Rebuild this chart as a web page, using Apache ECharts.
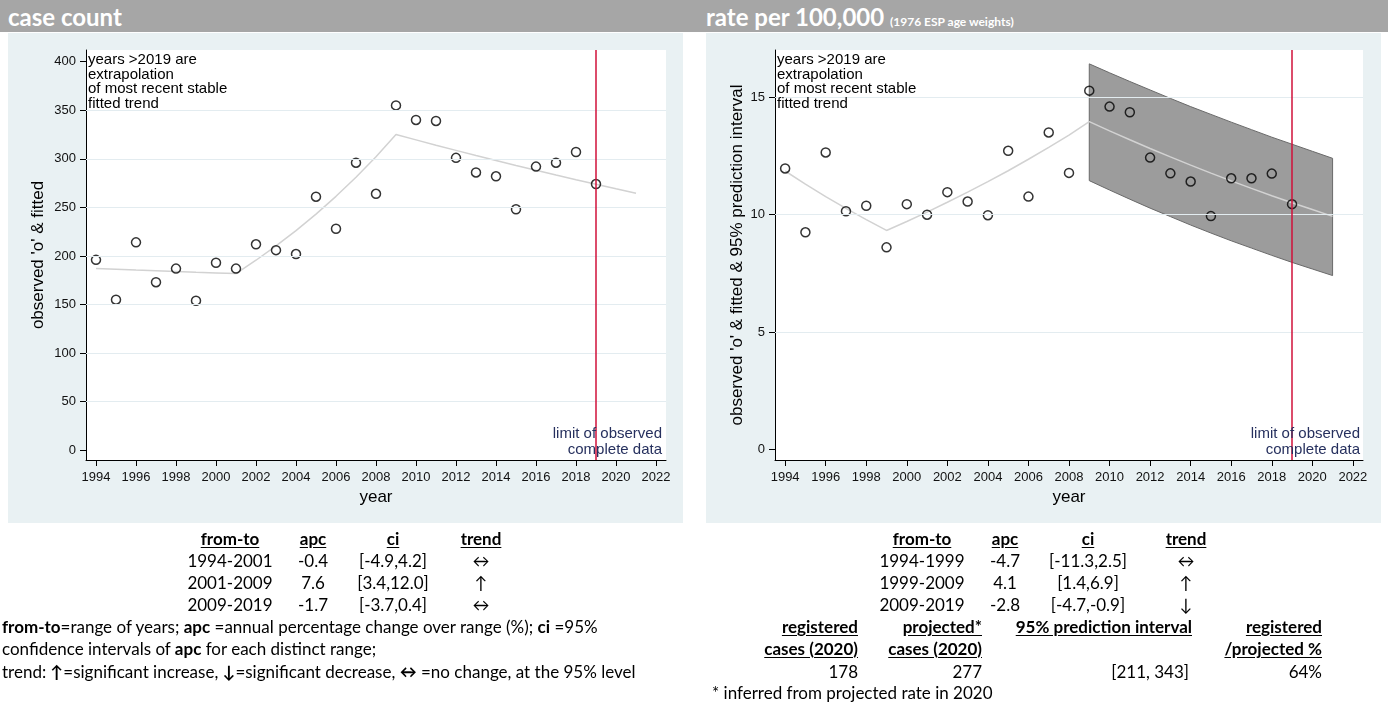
<!DOCTYPE html>
<html><head><meta charset="utf-8">
<script src="https://cdn.jsdelivr.net/npm/echarts@6/dist/echarts.min.js"></script>
<style>
html,body{margin:0;padding:0;width:1388px;height:706px;overflow:hidden;background:#fff;}
#bar{position:absolute;left:0;top:0;width:1388px;height:32px;background:#a6a6a6;}
.hdr{position:absolute;top:0;height:32px;line-height:33px;color:#fff;font-family:Lato,sans-serif;font-weight:bold;font-size:24px;white-space:nowrap;}
.hdr small{font-size:12px;}
.panel{position:absolute;top:33px;height:490px;background:#e9f1f3;}
#chart{position:absolute;left:0;top:0;width:1388px;height:706px;z-index:2;}
.t{position:absolute;font-family:Lato,sans-serif;font-size:17px;color:#000;white-space:nowrap;line-height:22px;z-index:3;}
.u{font-weight:bold;text-decoration:underline;text-underline-offset:2px;}
</style></head>
<body>
<div id="bar"></div>
<div class="hdr" style="left:8px">case count</div>
<div class="hdr" style="left:706px">rate per 100,000 <small>(1976 ESP age weights)</small></div>
<div class="panel" style="left:8px;width:675px"></div>
<div class="panel" style="left:706px;width:675px"></div>
<div id="chart"></div>
<script>
// ---------- data ----------
const years = [1994,1995,1996,1997,1998,1999,2000,2001,2002,2003,2004,2005,2006,2007,2008,2009,2010,2011,2012,2013,2014,2015,2016,2017,2018,2019];
const fitYears = [1994,1995,1996,1997,1998,1999,2000,2001,2002,2003,2004,2005,2006,2007,2008,2009,2010,2011,2012,2013,2014,2015,2016,2017,2018,2019,2020,2021];
const caseObserved = [196,155,214,173,187,154,193,187,212,206,202,261,228,296,264,355,340,339,301,286,282,248,292,296,307,274];
const caseFitted = [187.0,186.3,185.5,184.8,184.1,183.3,182.6,181.9,195.6,210.3,226.1,243.1,261.4,281.0,302.1,325.0,319.5,314.0,308.7,303.4,298.3,293.2,288.2,283.3,278.5,273.8,269.1,264.5];
const rateObserved = [11.96,9.24,12.64,10.14,10.37,8.60,10.44,9.99,10.95,10.55,9.97,12.71,10.76,13.49,11.77,15.27,14.59,14.35,12.42,11.75,11.40,9.93,11.54,11.54,11.74,10.44];
const rateFitted = [11.85,11.29,10.76,10.26,9.78,9.32,9.70,10.10,10.52,10.95,11.40,11.86,12.35,12.86,13.38,13.95,13.56,13.18,12.81,12.45,12.10,11.76,11.43,11.11,10.80,10.50,10.21,9.92];
const bandYears = [2009,2010,2011,2012,2013,2014,2015,2016,2017,2018,2019,2020,2021];
const bandUpper = [16.41,16.03,15.66,15.30,14.94,14.59,14.26,13.93,13.61,13.29,12.99,12.69,12.39];
const bandLower = [11.44,11.04,10.65,10.27,9.91,9.55,9.21,8.88,8.57,8.26,7.96,7.68,7.40];
const limitYear = 2019;
const xTicks = [1994,1996,1998,2000,2002,2004,2006,2008,2010,2012,2014,2016,2018,2020,2022];
const caseTicks = [0,50,100,150,200,250,300,350,400];
const caseGridLines = [50,100,150,200,250,300,350];
const rateTicks = [0,5,10,15];
const rateGridLines = [5,10,15];

const tableHeaders = ['from-to','apc','ci','trend'];
const caseFromTo = ['1994-2001','2001-2009','2009-2019'];
const caseApc = ['-0.4','7.6','-1.7'];
const caseCi = ['[-4.9,4.2]','[3.4,12.0]','[-3.7,0.4]'];
const caseTrend = ['↔','↑','↔'];
const rateFromTo = ['1994-1999','1999-2009','2009-2019'];
const rateApc = ['-4.7','4.1','-2.8'];
const rateCi = ['[-11.3,2.5]','[1.4,6.9]','[-4.7,-0.9]'];
const rateTrend = ['↔','↑','↓'];
const projHeaders1 = ['registered','projected*','95% prediction interval','registered'];
const projHeaders2 = ['cases (2020)','cases (2020)','','/projected %'];
const projValues = ['178','277','[211, 343]','64%'];

// ---------- chart ----------
const FONT = "'Liberation Sans', Arial, sans-serif";
const RED = '#d0103a';
const pairs = (xs, ys) => xs.map((x, i) => [x, ys[i]]);

function xAxisCfg(gi) {
  return {
    type: 'value', gridIndex: gi, min: 1993.5, max: 2022.5,
    name: 'year', nameLocation: 'middle', nameGap: 24,
    nameTextStyle: {fontSize: 17, color: '#000', fontFamily: FONT},
    axisLine: {show: true, onZero: false, lineStyle: {color: '#000', width: 1}},
    axisTick: {show: true, length: 6, customValues: xTicks, lineStyle: {color: '#000'}},
    axisLabel: {show: true, customValues: xTicks, margin: 11, fontSize: 13, color: '#111', fontFamily: FONT, formatter: v => String(v)},
    splitLine: {show: false}
  };
}
function yAxisCfg(gi, min, max, ticks, name, gap) {
  return {
    type: 'value', gridIndex: gi, min: min, max: max,
    name: name, nameLocation: 'middle', nameGap: gap, nameRotate: 90,
    nameTextStyle: {fontSize: 17, color: '#000', fontFamily: FONT},
    axisLine: {show: true, onZero: false, lineStyle: {color: '#000', width: 1}},
    axisTick: {show: true, length: 6, customValues: ticks, lineStyle: {color: '#000'}},
    axisLabel: {show: true, customValues: ticks, margin: 10, fontSize: 13, color: '#111', fontFamily: FONT, formatter: v => String(v)},
    splitLine: {show: false}
  };
}
function gridSeries(gi, vals) {
  return {type: 'line', xAxisIndex: gi, yAxisIndex: gi, data: [], silent: true, z: 1,
    markLine: {silent: true, symbol: ['none', 'none'], label: {show: false}, animation: false,
      lineStyle: {color: '#e3ecf0', width: 1, type: 'solid'}, data: vals.map(v => ({yAxis: v}))}};
}
function redSeries(gi) {
  return {type: 'line', xAxisIndex: gi, yAxisIndex: gi, data: [], silent: true, z: 1,
    markLine: {silent: true, symbol: ['none', 'none'], label: {show: false}, animation: false,
      lineStyle: {color: RED, width: 1.5, type: 'solid'}, data: [{xAxis: limitYear}]}};
}
function fitSeries(gi, ys, z) {
  return {type: 'line', xAxisIndex: gi, yAxisIndex: gi, data: pairs(fitYears, ys), symbol: 'none', z: z, silent: true,
    lineStyle: {color: '#d2d2d2', width: 1.5}};
}
function obsSeries(gi, ys, z) {
  return {type: 'scatter', xAxisIndex: gi, yAxisIndex: gi, data: pairs(years, ys), symbol: 'circle', symbolSize: 9, z: z, silent: true,
    itemStyle: {color: 'rgba(0,0,0,0)', borderColor: '#000', borderWidth: 1.5}};
}
const annText = 'years >2019 are\nextrapolation\nof most recent stable\nfitted trend';
const limText = 'limit of observed\ncomplete data';

const chart = echarts.init(document.getElementById('chart'), null, {renderer: 'canvas'});
chart.setOption({
  animation: false,
  backgroundColor: 'transparent',
  grid: [
    {left: 86, top: 50, width: 580, height: 410, show: true, backgroundColor: '#fff', borderWidth: 0, containLabel: false, outerBoundsMode: 'none'},
    {left: 775, top: 50, width: 588, height: 410, show: true, backgroundColor: '#fff', borderWidth: 0, containLabel: false, outerBoundsMode: 'none'}
  ],
  xAxis: [xAxisCfg(0), xAxisCfg(1)],
  yAxis: [
    yAxisCfg(0, -10, 412, caseTicks, "observed 'o' & fitted", 39),
    yAxisCfg(1, -0.45, 17, rateTicks, "observed 'o' & fitted & 95% prediction interval", 29)
  ],
  graphic: [
    {type: 'text', x: 88, y: 53, z: 10, silent: true, style: {text: annText, font: '15px ' + FONT, lineHeight: 14.5, fill: '#000', align: 'left', verticalAlign: 'top'}},
    {type: 'text', x: 777, y: 53, z: 10, silent: true, style: {text: annText, font: '15px ' + FONT, lineHeight: 14.5, fill: '#000', align: 'left', verticalAlign: 'top'}},
    {type: 'text', x: 662, y: 426, z: 10, silent: true, style: {text: limText, font: '15px ' + FONT, lineHeight: 16, fill: '#26305e', align: 'right', verticalAlign: 'top'}},
    {type: 'text', x: 1360, y: 426, z: 10, silent: true, style: {text: limText, font: '15px ' + FONT, lineHeight: 16, fill: '#26305e', align: 'right', verticalAlign: 'top'}}
  ],
  series: [
    gridSeries(0, caseGridLines),
    redSeries(0),
    fitSeries(0, caseFitted, 2),
    obsSeries(0, caseObserved, 3),
    gridSeries(1, rateGridLines),
    redSeries(1),
    {type: 'custom', xAxisIndex: 1, yAxisIndex: 1, data: [[2009, 14]], z: 2, silent: true,
      renderItem: function (params, api) {
        const pts = [];
        for (let i = 0; i < bandYears.length; i++) pts.push(api.coord([bandYears[i], bandUpper[i]]));
        for (let i = bandYears.length - 1; i >= 0; i--) pts.push(api.coord([bandYears[i], bandLower[i]]));
        return {type: 'polygon', shape: {points: pts}, style: {fill: '#9c9c9c', stroke: '#6a6a6a', lineWidth: 1}};
      }},
    fitSeries(1, rateFitted, 3),
    obsSeries(1, rateObserved, 4)
  ]
});

// ---------- tables ----------
function put(html, x, y, align, cls) {
  const d = document.createElement('div');
  d.className = 't' + (cls ? ' ' + cls : '');
  const w = 400;
  let left = x;
  if (align === 'center') { left = x - w / 2; d.style.textAlign = 'center'; }
  else if (align === 'right') { left = x - w; d.style.textAlign = 'right'; }
  else { d.style.textAlign = 'left'; }
  d.style.left = left + 'px'; d.style.width = w + 'px'; d.style.top = (y - 11) + 'px';
  d.innerHTML = html;
  document.body.appendChild(d);
}
function trendTable(cols, xs) {
  const hy = 539, dy = 22;
  tableHeaders.forEach((h, j) => put('<span class="u">' + h + '</span>', xs[j], hy, 'center'));
  for (let i = 0; i < 3; i++) {
    cols.forEach((c, j) => put(c[i], xs[j], hy + dy * (i + 1), 'center'));
  }
}
trendTable([caseFromTo, caseApc, caseCi, caseTrend], [230, 313, 393, 481]);
trendTable([rateFromTo, rateApc, rateCi, rateTrend], [922, 1005, 1088, 1186]);

put('<b>from-to</b>=range of years; <b>apc</b> =annual percentage change over range (%); <b>ci</b> =95%', 2, 627, 'left');
put('confidence intervals of <b>apc</b> for each distinct range;', 2, 649, 'left');
put('trend: <b>↑</b>=significant increase, <b>↓</b>=significant decrease, <b>↔</b> =no change, at the 95% level', 2, 672, 'left');

const projX = [858, 982, 1192, 1322];
projHeaders1.forEach((h, j) => put('<span class="u">' + h + '</span>', projX[j], 627, 'right'));
projHeaders2.forEach((h, j) => { if (h) put('<span class="u">' + h + '</span>', projX[j], 649, 'right'); });
projValues.forEach((v, j) => put(v, projX[j] - (j === 2 ? 3 : 0), 672, 'right'));
put('* inferred from projected rate in 2020', 712, 693, 'left');
</script>
</body></html>
